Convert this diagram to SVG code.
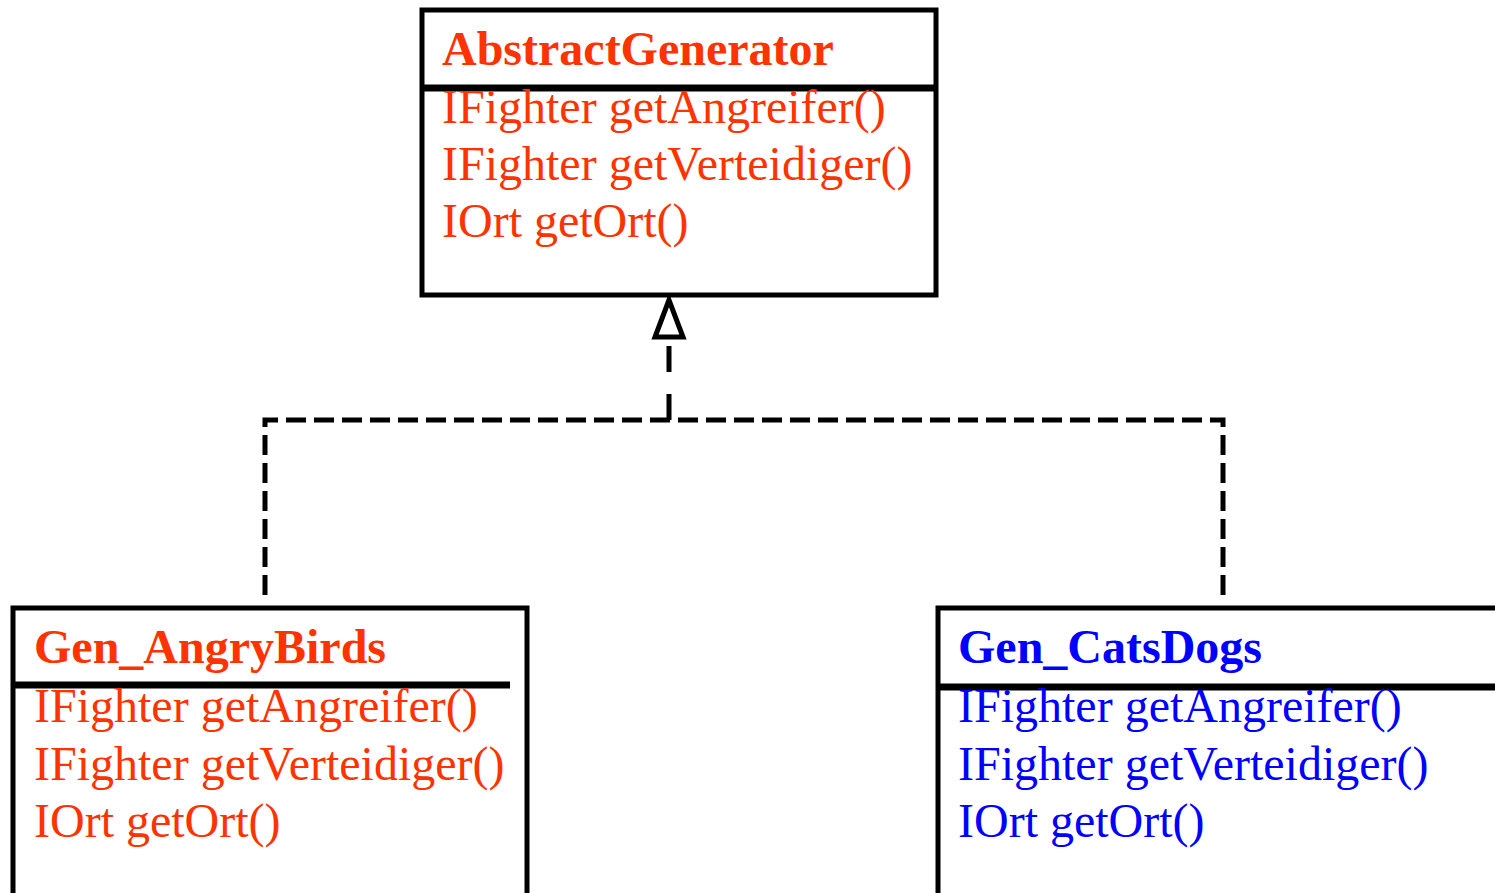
<svg xmlns="http://www.w3.org/2000/svg" width="1495" height="893" viewBox="0 0 1495 893">
<style>
.box{fill:#fff;stroke:#000;stroke-width:5}
.div{stroke:#000;stroke-width:7}
.t{font-family:"Liberation Serif","Times New Roman",serif;font-size:48px}
.h{font-weight:bold}
.red{fill:#FF3300}
.blue{fill:#0000FF}
.dash{fill:none;stroke:#000;stroke-width:5;stroke-dasharray:20 8}
</style>
<rect width="1495" height="893" fill="#fff"/>
<g id="connectors">
<path class="dash" d="M265,595 V420 H1223 V595"/>
<path class="dash" d="M669,420 V340" style="stroke-dasharray:26 22"/>
<polygon points="669,300 655,337 683,337" fill="#fff" stroke="#000" stroke-width="5" stroke-linejoin="miter"/>
</g>
<g id="AbstractGenerator">
<rect class="box" x="422" y="10" width="514" height="285"/>
<line class="div" x1="422" y1="88" x2="936" y2="88"/>
<text class="t h red" x="442" y="65">AbstractGenerator</text>
<text class="t red" x="442" y="123">IFighter getAngreifer()</text>
<text class="t red" x="442" y="180">IFighter getVerteidiger()</text>
<text class="t red" x="442" y="237">IOrt getOrt()</text>
</g>
<g id="Gen_AngryBirds">
<rect class="box" x="13" y="608" width="514" height="320"/>
<line class="div" x1="13" y1="685" x2="510" y2="685"/>
<text class="t h red" x="34" y="663">Gen_AngryBirds</text>
<text class="t red" x="34" y="722">IFighter getAngreifer()</text>
<text class="t red" x="34" y="780">IFighter getVerteidiger()</text>
<text class="t red" x="34" y="837">IOrt getOrt()</text>
</g>
<g id="Gen_CatsDogs">
<rect class="box" x="938" y="608" width="600" height="320"/>
<line class="div" x1="938" y1="687" x2="1500" y2="687"/>
<text class="t h blue" x="958" y="663">Gen_CatsDogs</text>
<text class="t blue" x="958" y="722">IFighter getAngreifer()</text>
<text class="t blue" x="958" y="780">IFighter getVerteidiger()</text>
<text class="t blue" x="958" y="837">IOrt getOrt()</text>
</g>
</svg>
